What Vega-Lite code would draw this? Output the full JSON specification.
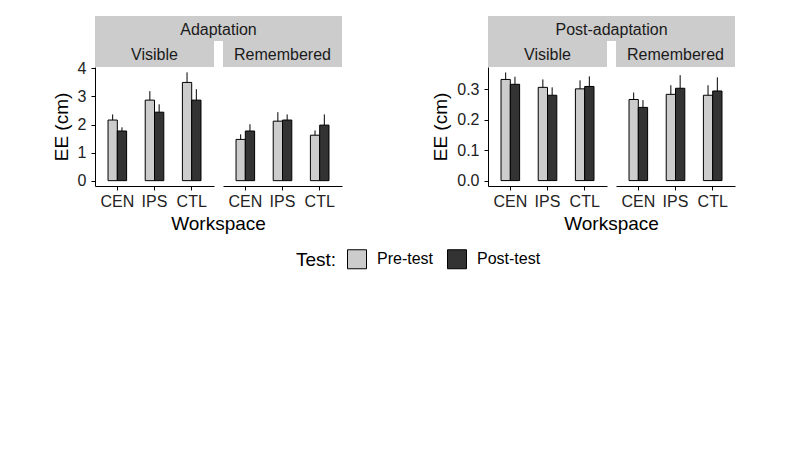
{
  "$schema": "https://vega.github.io/schema/vega-lite/v6.json",
  "padding": {"left": 52, "top": 16, "right": 5, "bottom": 5},
  "background": "white",
  "datasets": {
    "ee": [
      {"phase": "Adaptation", "cond": "Visible", "ws": "CEN", "test": "Pre-test", "mean": 2.16, "upper": 2.36},
      {"phase": "Adaptation", "cond": "Visible", "ws": "CEN", "test": "Post-test", "mean": 1.77, "upper": 1.90},
      {"phase": "Adaptation", "cond": "Visible", "ws": "IPS", "test": "Pre-test", "mean": 2.87, "upper": 3.19},
      {"phase": "Adaptation", "cond": "Visible", "ws": "IPS", "test": "Post-test", "mean": 2.44, "upper": 2.72},
      {"phase": "Adaptation", "cond": "Visible", "ws": "CTL", "test": "Pre-test", "mean": 3.50, "upper": 3.86},
      {"phase": "Adaptation", "cond": "Visible", "ws": "CTL", "test": "Post-test", "mean": 2.87, "upper": 3.26},
      {"phase": "Adaptation", "cond": "Remembered", "ws": "CEN", "test": "Pre-test", "mean": 1.47, "upper": 1.65},
      {"phase": "Adaptation", "cond": "Remembered", "ws": "CEN", "test": "Post-test", "mean": 1.77, "upper": 2.01},
      {"phase": "Adaptation", "cond": "Remembered", "ws": "IPS", "test": "Pre-test", "mean": 2.12, "upper": 2.44},
      {"phase": "Adaptation", "cond": "Remembered", "ws": "IPS", "test": "Post-test", "mean": 2.16, "upper": 2.36},
      {"phase": "Adaptation", "cond": "Remembered", "ws": "CTL", "test": "Pre-test", "mean": 1.62, "upper": 1.79},
      {"phase": "Adaptation", "cond": "Remembered", "ws": "CTL", "test": "Post-test", "mean": 1.98, "upper": 2.36},
      {"phase": "Post-adaptation", "cond": "Visible", "ws": "CEN", "test": "Pre-test", "mean": 0.333, "upper": 0.356},
      {"phase": "Post-adaptation", "cond": "Visible", "ws": "CEN", "test": "Post-test", "mean": 0.317, "upper": 0.342},
      {"phase": "Post-adaptation", "cond": "Visible", "ws": "IPS", "test": "Pre-test", "mean": 0.307, "upper": 0.333},
      {"phase": "Post-adaptation", "cond": "Visible", "ws": "IPS", "test": "Post-test", "mean": 0.281, "upper": 0.307},
      {"phase": "Post-adaptation", "cond": "Visible", "ws": "CTL", "test": "Pre-test", "mean": 0.302, "upper": 0.330},
      {"phase": "Post-adaptation", "cond": "Visible", "ws": "CTL", "test": "Post-test", "mean": 0.310, "upper": 0.343},
      {"phase": "Post-adaptation", "cond": "Remembered", "ws": "CEN", "test": "Pre-test", "mean": 0.267, "upper": 0.290},
      {"phase": "Post-adaptation", "cond": "Remembered", "ws": "CEN", "test": "Post-test", "mean": 0.241, "upper": 0.265},
      {"phase": "Post-adaptation", "cond": "Remembered", "ws": "IPS", "test": "Pre-test", "mean": 0.284, "upper": 0.314},
      {"phase": "Post-adaptation", "cond": "Remembered", "ws": "IPS", "test": "Post-test", "mean": 0.304, "upper": 0.347},
      {"phase": "Post-adaptation", "cond": "Remembered", "ws": "CTL", "test": "Pre-test", "mean": 0.281, "upper": 0.314},
      {"phase": "Post-adaptation", "cond": "Remembered", "ws": "CTL", "test": "Post-test", "mean": 0.295, "upper": 0.340}
    ]
  },
  "hconcat": [
    {
      "spacing": 0,
      "vconcat": [
        {
          "width": 247, "height": 25,
          "data": {"values": [{"s": "Adaptation"}]},
          "layer": [
            {"mark": {"type": "rect", "fill": "#CCCCCC"}, "encoding": {"x": {"field": "s", "type": "nominal", "axis": null, "scale": {"paddingInner": 0, "paddingOuter": 0}}}},
            {"mark": {"type": "text", "fontSize": 16, "color": "#1A1A1A", "baseline": "middle", "dy": 1}, "encoding": {"x": {"field": "s", "type": "nominal", "axis": null}, "text": {"field": "s"}}}
          ]
        },
        {
          "spacing": 9,
          "hconcat": [
            {
              "spacing": 0,
              "bounds": "flush",
              "vconcat": [
                {
                  "width": 119, "height": 26,
                  "data": {"values": [{"s": "Visible"}]},
                  "layer": [
                    {"mark": {"type": "rect", "fill": "#CCCCCC"}, "encoding": {"x": {"field": "s", "type": "nominal", "axis": null, "scale": {"paddingInner": 0, "paddingOuter": 0}}}},
                    {"mark": {"type": "text", "fontSize": 16, "color": "#1A1A1A", "baseline": "middle", "dy": 1}, "encoding": {"x": {"field": "s", "type": "nominal", "axis": null}, "text": {"field": "s"}}}
                  ]
                },
                {
                  "width": 119, "height": 119,
                  "data": {"name": "ee"},
                  "transform": [{"filter": "datum.phase === 'Adaptation' && datum.cond === 'Visible'"}],
                  "encoding": {
                    "x": {"field": "ws", "type": "nominal", "sort": ["CEN", "IPS", "CTL"], "scale": {"paddingInner": 0, "paddingOuter": 0.1}, "axis": {"title": null, "labelAngle": 0}},
                    "xOffset": {"field": "test", "type": "nominal", "sort": ["Pre-test", "Post-test"], "scale": {"paddingInner": 0, "paddingOuter": 1.05}},
                    "y": {"field": "mean", "type": "quantitative", "scale": {"domain": [-0.19, 4.05], "nice": false, "zero": false}, "axis": {"title": "EE (cm)", "values": [0, 1, 2, 3, 4], "labelOverlap": false}}
                  },
                  "layer": [
                    {"mark": {"type": "bar", "stroke": "black", "strokeWidth": 1},
                     "encoding": {
                       "color": {"field": "test", "type": "nominal", "scale": {"domain": ["Pre-test", "Post-test"], "range": ["#CCCCCC", "#333333"]}, "legend": {"title": "Test:"}}
                     }},
                    {"mark": {"type": "rule", "color": "black", "strokeWidth": 1},
                     "encoding": {"y2": {"field": "upper"}}}
                  ]
                }
              ]
            },
            {
              "spacing": 0,
              "bounds": "flush",
              "vconcat": [
                {
                  "width": 119, "height": 26,
                  "data": {"values": [{"s": "Remembered"}]},
                  "layer": [
                    {"mark": {"type": "rect", "fill": "#CCCCCC"}, "encoding": {"x": {"field": "s", "type": "nominal", "axis": null, "scale": {"paddingInner": 0, "paddingOuter": 0}}}},
                    {"mark": {"type": "text", "fontSize": 16, "color": "#1A1A1A", "baseline": "middle", "dy": 1}, "encoding": {"x": {"field": "s", "type": "nominal", "axis": null}, "text": {"field": "s"}}}
                  ]
                },
                {
                  "width": 119, "height": 119,
                  "data": {"name": "ee"},
                  "transform": [{"filter": "datum.phase === 'Adaptation' && datum.cond === 'Remembered'"}],
                  "encoding": {
                    "x": {"field": "ws", "type": "nominal", "sort": ["CEN", "IPS", "CTL"], "scale": {"paddingInner": 0, "paddingOuter": 0.1}, "axis": {"title": null, "labelAngle": 0}},
                    "xOffset": {"field": "test", "type": "nominal", "sort": ["Pre-test", "Post-test"], "scale": {"paddingInner": 0, "paddingOuter": 1.05}},
                    "y": {"field": "mean", "type": "quantitative", "scale": {"domain": [-0.19, 4.05], "nice": false, "zero": false}, "axis": null}
                  },
                  "layer": [
                    {"mark": {"type": "bar", "stroke": "black", "strokeWidth": 1},
                     "encoding": {
                       "color": {"field": "test", "type": "nominal", "scale": {"domain": ["Pre-test", "Post-test"], "range": ["#CCCCCC", "#333333"]}, "legend": {"title": "Test:"}}
                     }},
                    {"mark": {"type": "rule", "color": "black", "strokeWidth": 1},
                     "encoding": {"y2": {"field": "upper"}}}
                  ]
                }
              ]
            }
          ]
        },
        {
          "width": 247, "height": 30,
          "data": {"values": [{"t": "Workspace"}]},
          "mark": {"type": "text", "fontSize": 19, "color": "black", "baseline": "middle"},
          "encoding": {"text": {"field": "t"}}
        }
      ]
    },
    {
      "spacing": 0,
      "vconcat": [
        {
          "width": 247, "height": 25,
          "data": {"values": [{"s": "Post-adaptation"}]},
          "layer": [
            {"mark": {"type": "rect", "fill": "#CCCCCC"}, "encoding": {"x": {"field": "s", "type": "nominal", "axis": null, "scale": {"paddingInner": 0, "paddingOuter": 0}}}},
            {"mark": {"type": "text", "fontSize": 16, "color": "#1A1A1A", "baseline": "middle", "dy": 1}, "encoding": {"x": {"field": "s", "type": "nominal", "axis": null}, "text": {"field": "s"}}}
          ]
        },
        {
          "spacing": 9,
          "hconcat": [
            {
              "spacing": 0,
              "bounds": "flush",
              "vconcat": [
                {
                  "width": 119, "height": 26,
                  "data": {"values": [{"s": "Visible"}]},
                  "layer": [
                    {"mark": {"type": "rect", "fill": "#CCCCCC"}, "encoding": {"x": {"field": "s", "type": "nominal", "axis": null, "scale": {"paddingInner": 0, "paddingOuter": 0}}}},
                    {"mark": {"type": "text", "fontSize": 16, "color": "#1A1A1A", "baseline": "middle", "dy": 1}, "encoding": {"x": {"field": "s", "type": "nominal", "axis": null}, "text": {"field": "s"}}}
                  ]
                },
                {
                  "width": 119, "height": 119,
                  "data": {"name": "ee"},
                  "transform": [{"filter": "datum.phase === 'Post-adaptation' && datum.cond === 'Visible'"}],
                  "encoding": {
                    "x": {"field": "ws", "type": "nominal", "sort": ["CEN", "IPS", "CTL"], "scale": {"paddingInner": 0, "paddingOuter": 0.1}, "axis": {"title": null, "labelAngle": 0}},
                    "xOffset": {"field": "test", "type": "nominal", "sort": ["Pre-test", "Post-test"], "scale": {"paddingInner": 0, "paddingOuter": 1.05}},
                    "y": {"field": "mean", "type": "quantitative", "scale": {"domain": [-0.0178, 0.374], "nice": false, "zero": false}, "axis": {"title": "EE (cm)", "values": [0, 0.1, 0.2, 0.3], "format": ".1f", "labelOverlap": false}}
                  },
                  "layer": [
                    {"mark": {"type": "bar", "stroke": "black", "strokeWidth": 1},
                     "encoding": {
                       "color": {"field": "test", "type": "nominal", "scale": {"domain": ["Pre-test", "Post-test"], "range": ["#CCCCCC", "#333333"]}, "legend": {"title": "Test:"}}
                     }},
                    {"mark": {"type": "rule", "color": "black", "strokeWidth": 1},
                     "encoding": {"y2": {"field": "upper"}}}
                  ]
                }
              ]
            },
            {
              "spacing": 0,
              "bounds": "flush",
              "vconcat": [
                {
                  "width": 119, "height": 26,
                  "data": {"values": [{"s": "Remembered"}]},
                  "layer": [
                    {"mark": {"type": "rect", "fill": "#CCCCCC"}, "encoding": {"x": {"field": "s", "type": "nominal", "axis": null, "scale": {"paddingInner": 0, "paddingOuter": 0}}}},
                    {"mark": {"type": "text", "fontSize": 16, "color": "#1A1A1A", "baseline": "middle", "dy": 1}, "encoding": {"x": {"field": "s", "type": "nominal", "axis": null}, "text": {"field": "s"}}}
                  ]
                },
                {
                  "width": 119, "height": 119,
                  "data": {"name": "ee"},
                  "transform": [{"filter": "datum.phase === 'Post-adaptation' && datum.cond === 'Remembered'"}],
                  "encoding": {
                    "x": {"field": "ws", "type": "nominal", "sort": ["CEN", "IPS", "CTL"], "scale": {"paddingInner": 0, "paddingOuter": 0.1}, "axis": {"title": null, "labelAngle": 0}},
                    "xOffset": {"field": "test", "type": "nominal", "sort": ["Pre-test", "Post-test"], "scale": {"paddingInner": 0, "paddingOuter": 1.05}},
                    "y": {"field": "mean", "type": "quantitative", "scale": {"domain": [-0.0178, 0.374], "nice": false, "zero": false}, "axis": null}
                  },
                  "layer": [
                    {"mark": {"type": "bar", "stroke": "black", "strokeWidth": 1},
                     "encoding": {
                       "color": {"field": "test", "type": "nominal", "scale": {"domain": ["Pre-test", "Post-test"], "range": ["#CCCCCC", "#333333"]}, "legend": {"title": "Test:"}}
                     }},
                    {"mark": {"type": "rule", "color": "black", "strokeWidth": 1},
                     "encoding": {"y2": {"field": "upper"}}}
                  ]
                }
              ]
            }
          ]
        },
        {
          "width": 247, "height": 30,
          "data": {"values": [{"t": "Workspace"}]},
          "mark": {"type": "text", "fontSize": 19, "color": "black", "baseline": "middle"},
          "encoding": {"text": {"field": "t"}}
        }
      ]
    }
  ],
  "spacing": 89,
  "config": {
    "font": "Liberation Sans",
    "view": {"stroke": null},
    "axis": {"domainColor": "black", "domainWidth": 1, "tickColor": "black", "tickSize": 4, "tickWidth": 1, "labelFontSize": 16, "labelColor": "#222222", "titleFontSize": 19, "titleFontWeight": "normal", "titleColor": "black", "grid": false, "labelPadding": 3},
    "axisY": {"labelPadding": 5, "titlePadding": 6},
    "legend": {"orient": "none", "legendX": 201, "legendY": 233, "direction": "horizontal", "titleOrient": "left", "titleFontSize": 19, "titleFontWeight": "normal", "titleColor": "black", "labelFontSize": 16, "labelColor": "black", "symbolType": "square", "symbolSize": 361, "symbolStrokeColor": "black", "symbolStrokeWidth": 1, "labelOffset": 10, "columnPadding": 11, "titlePadding": 10, "padding": 0, "symbolOpacity": 1}
  }
}
